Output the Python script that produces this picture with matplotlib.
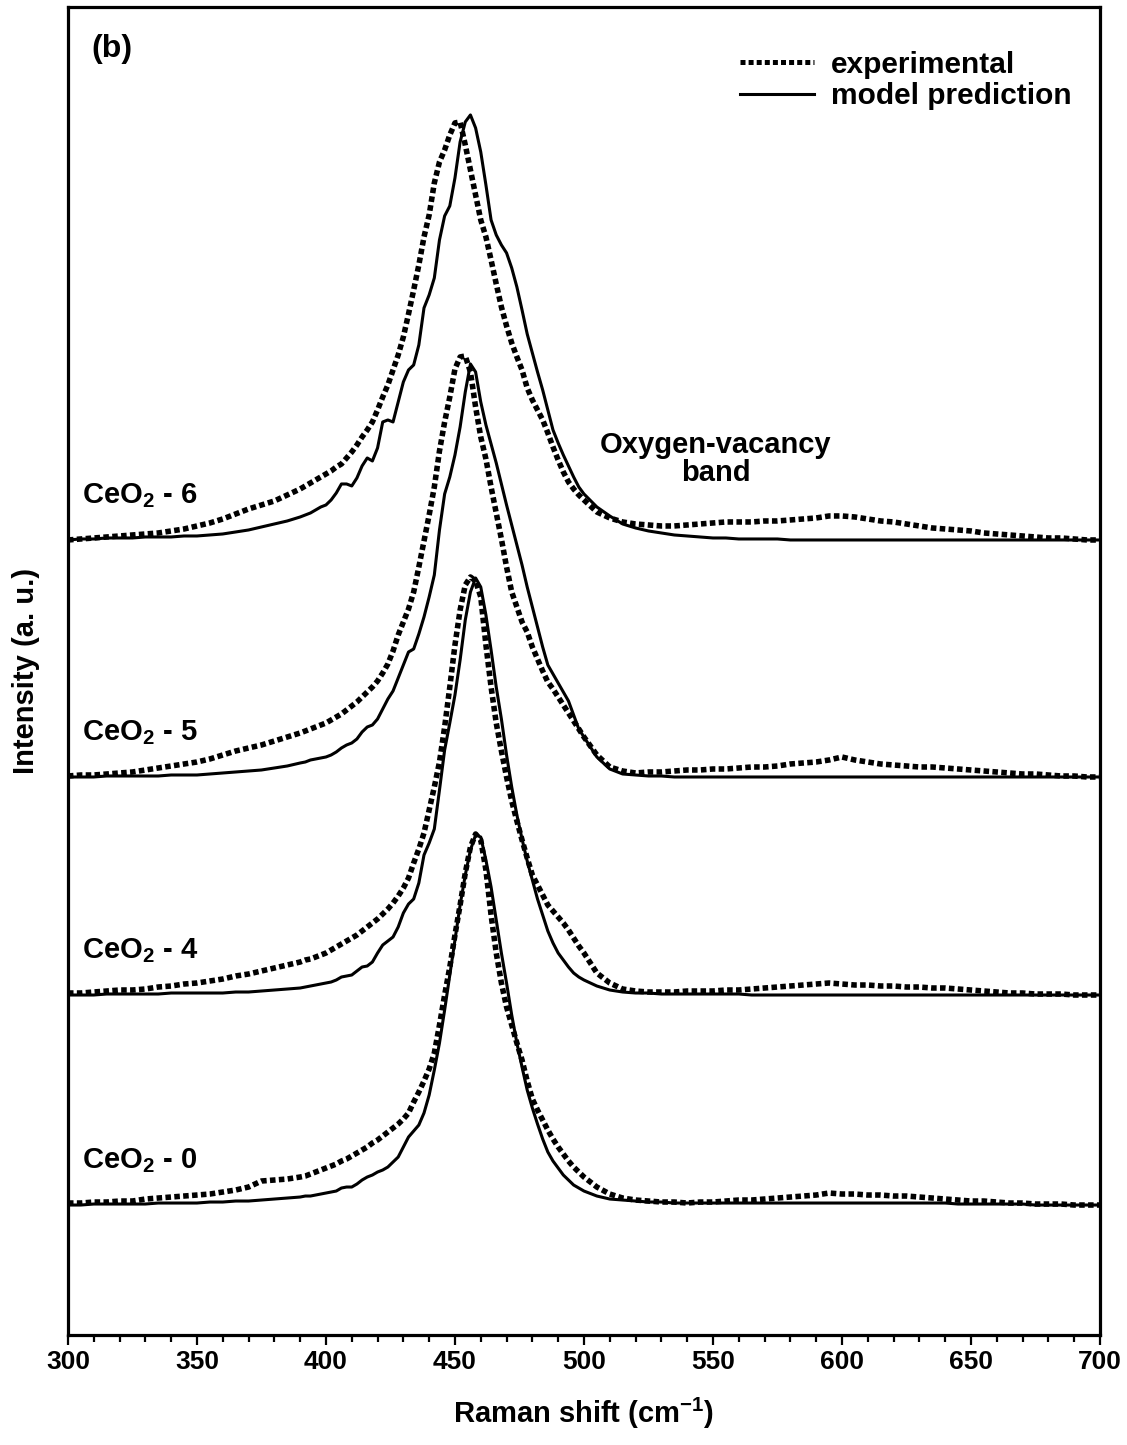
import numpy as np
import matplotlib
matplotlib.use("Agg")
import matplotlib.pyplot as plt
from matplotlib.lines import Line2D
from matplotlib.ticker import MultipleLocator, NullLocator

plt.rcParams["font.family"] = "Liberation Sans"
plt.rcParams["font.weight"] = "bold"
plt.rcParams["mathtext.fontset"] = "custom"
plt.rcParams["mathtext.rm"] = "Liberation Sans:bold"
plt.rcParams["mathtext.it"] = "Liberation Sans:bold"
plt.rcParams["mathtext.bf"] = "Liberation Sans:bold"

# Raman shift grid (cm-1): 5 cm-1 on the wings, 2 cm-1 across the F2g band
shift = np.concatenate([np.arange(300, 390, 5),
                        np.arange(390, 500, 2),
                        np.arange(500, 701, 5)])

samples = ["CeO$_2$ - 0", "CeO$_2$ - 4", "CeO$_2$ - 5", "CeO$_2$ - 6"]
offsets = [130, 340, 558, 795]

# measured spectra (a.u., baseline removed)
exp_0 = [2, 2, 3, 3, 4, 4, 6, 7, 8, 9, 10, 11, 13, 15, 18, 24, 25, 26,
         28, 29, 31, 33, 35, 37, 39, 41, 44, 46, 49, 52, 55, 58, 62, 65, 69, 73, 77, 81,
         86, 92, 103, 113, 124, 136, 152, 180, 210, 238, 270, 300, 332, 358, 371, 365, 335, 290, 252, 222,
         198, 180, 162, 145, 124, 106, 95, 85, 75, 66, 58, 51, 44, 38, 33,
         28, 18, 11, 7, 5, 4, 3, 3, 2, 3, 3, 4, 5, 5, 6, 7, 8, 9, 10, 12, 11,
         11, 10, 10, 9, 9, 8, 7, 6, 5, 4, 4, 3, 2, 2, 1, 1, 1, 0, 0, 0]
exp_4 = [2, 2, 3, 4, 5, 5, 6, 8, 9, 11, 12, 14, 16, 19, 21, 24, 27, 30,
         33, 35, 36, 38, 40, 42, 45, 48, 51, 54, 57, 60, 64, 68, 72, 76, 81, 86, 92, 99,
         107, 117, 132, 146, 162, 185, 208, 233, 268, 308, 350, 385, 410, 418, 414, 398, 350, 308, 272, 244,
         218, 194, 174, 155, 137, 120, 110, 100, 90, 84, 78, 72, 65, 57, 49,
         42, 22, 12, 6, 4, 3, 3, 3, 4, 4, 4, 5, 5, 6, 7, 8, 9, 10, 11, 12, 11,
         10, 10, 9, 9, 8, 8, 7, 7, 6, 5, 4, 3, 2, 2, 1, 1, 1, 0, 0, 0]
exp_5 = [1, 2, 2, 3, 4, 5, 7, 9, 11, 13, 15, 18, 22, 26, 29, 32, 36, 40,
         44, 46, 48, 50, 52, 54, 57, 60, 63, 67, 71, 75, 80, 85, 90, 96, 104, 113, 126, 142,
         155, 168, 185, 210, 236, 262, 290, 326, 355, 380, 408, 420, 421, 405, 370, 340, 318, 290, 264, 238,
         210, 185, 170, 155, 145, 130, 118, 106, 95, 88, 80, 72, 64, 56, 48,
         40, 22, 10, 6, 4, 5, 5, 6, 7, 7, 8, 8, 9, 10, 10, 11, 13, 14, 15, 17, 20,
         17, 15, 13, 12, 11, 10, 10, 9, 8, 7, 6, 5, 4, 3, 3, 2, 1, 1, 0, 0]
exp_6 = [0, 1, 2, 3, 4, 5, 6, 7, 9, 11, 14, 17, 21, 26, 31, 35, 39, 45,
         51, 54, 57, 60, 63, 66, 69, 73, 76, 82, 88, 95, 103, 110, 118, 130, 143, 155, 170, 185,
         203, 226, 250, 275, 303, 325, 357, 378, 390, 405, 417, 418, 395, 370, 345, 320, 303, 280, 256, 233,
         214, 197, 183, 170, 152, 140, 130, 120, 107, 93, 80, 68, 58, 51, 45,
         40, 28, 22, 18, 16, 15, 14, 14, 15, 16, 17, 18, 18, 18, 19, 19, 20, 21, 22, 24, 24,
         23, 21, 19, 18, 16, 14, 12, 11, 10, 9, 7, 6, 5, 4, 3, 2, 2, 1, 0, 0]

# model predictions on the same grid
mod_0 = [0, 0, 1, 1, 1, 1, 1, 2, 2, 2, 2, 3, 3, 4, 4, 5, 6, 7,
         8, 9, 9, 10, 11, 12, 13, 14, 17, 18, 18, 21, 25, 28, 30, 33, 35, 38, 43, 48,
         58, 68, 74, 80, 92, 110, 135, 162, 195, 230, 265, 300, 330, 355, 370, 368, 345, 318, 285, 252,
         222, 190, 162, 138, 115, 97, 81, 66, 53, 44, 37, 30, 25, 20, 17,
         14, 9, 6, 5, 4, 3, 3, 2, 2, 2, 2, 2, 2, 2, 2, 2, 2, 2, 2, 2, 2,
         2, 2, 2, 2, 2, 2, 2, 2, 1, 1, 1, 1, 1, 1, 0, 0, 0, 0, 0, 0]
mod_4 = [0, 0, 0, 1, 1, 1, 1, 1, 2, 2, 2, 2, 2, 3, 3, 4, 5, 6,
         7, 8, 9, 10, 11, 12, 13, 15, 18, 19, 20, 24, 28, 29, 33, 42, 50, 54, 58, 68,
         82, 91, 96, 112, 140, 152, 166, 205, 245, 272, 300, 335, 375, 403, 417, 408, 380, 345, 308, 276,
         240, 208, 180, 156, 134, 115, 96, 80, 64, 52, 42, 35, 28, 22, 18,
         15, 9, 5, 3, 2, 2, 1, 1, 1, 1, 1, 1, 1, 0, 0, 0, 0, 0, 0, 0, 0,
         0, 0, 0, 0, 0, 0, 0, 0, 0, 0, 0, 0, 0, 0, 0, 0, 0, 0, 0, 0]
mod_5 = [0, 0, 0, 1, 1, 1, 1, 1, 2, 2, 2, 3, 4, 5, 6, 7, 9, 11,
         14, 15, 17, 18, 19, 20, 22, 25, 29, 32, 34, 38, 45, 50, 52, 58, 68, 78, 86, 99,
         112, 125, 128, 143, 160, 180, 202, 247, 283, 300, 322, 350, 385, 413, 405, 375, 352, 333, 314, 293,
         272, 252, 232, 212, 190, 170, 150, 130, 112, 103, 94, 85, 76, 62, 48,
         40, 20, 8, 3, 2, 1, 1, 0, 0, 0, 0, 0, 0, 0, 0, 0, 0, 0, 0, 0, 0,
         0, 0, 0, 0, 0, 0, 0, 0, 0, 0, 0, 0, 0, 0, 0, 0, 0, 0, 0, 0]
mod_6 = [0, 1, 1, 2, 2, 2, 3, 3, 3, 4, 4, 5, 6, 8, 10, 13, 16, 19,
         23, 25, 27, 30, 33, 35, 40, 47, 56, 56, 54, 62, 74, 82, 79, 92, 118, 120, 118, 138,
         158, 170, 175, 195, 232, 245, 262, 300, 324, 334, 362, 398, 418, 425, 412, 388, 355, 320, 305, 295,
         287, 272, 253, 230, 206, 187, 168, 150, 130, 110, 97, 85, 74, 63, 53,
         46, 33, 24, 16, 12, 9, 7, 5, 4, 3, 2, 2, 1, 1, 1, 1, 0, 0, 0, 0, 0,
         0, 0, 0, 0, 0, 0, 0, 0, 0, 0, 0, 0, 0, 0, 0, 0, 0, 0, 0, 0]

experimental = [exp_0, exp_4, exp_5, exp_6]
model = [mod_0, mod_4, mod_5, mod_6]

fig = plt.figure(figsize=(11.27, 14.45), dpi=100)
ax = fig.add_axes([0.0603, 0.0761, 0.9157, 0.9191])

dots = (0, (1, 0.6))
for name, off, e, m in zip(samples, offsets, experimental, model):
    ax.plot(shift, np.array(e) + off, color="black", lw=4.0,
            linestyle=dots, dash_capstyle="butt")
    ax.plot(shift, np.array(m) + off, color="black", lw=2.2)
    ax.text(305.5, off + 44, name, fontsize=21, fontweight="bold",
            ha="left", va="center")

ax.text(551, 876, "Oxygen-vacancy\nband", fontsize=21, fontweight="bold",
        ha="center", va="center", linespacing=1.0)
ax.text(0.023, 0.968, "(b)", transform=ax.transAxes, fontsize=23,
        fontweight="bold", ha="left", va="center")

handles = [Line2D([], [], color="black", lw=3.6, linestyle=(0, (1, 0.62)),
                  dash_capstyle="butt"),
           Line2D([], [], color="black", lw=2.2)]
ax.legend(handles, ["experimental", "model prediction"], loc="upper left",
          bbox_to_anchor=(0.651, 0.967), frameon=False, borderpad=0,
          borderaxespad=0, handlelength=2.5, handletextpad=0.55,
          labelspacing=0.12, prop={"size": 21.5, "weight": "bold"})

ax.set_xlim(300, 700)
ax.set_ylim(0, 1328)
ax.xaxis.set_major_locator(MultipleLocator(50))
ax.xaxis.set_minor_locator(MultipleLocator(10))
ax.yaxis.set_major_locator(NullLocator())
ax.tick_params(axis="x", which="major", direction="out", length=7.5, width=1.6,
               labelsize=19, pad=3)
ax.tick_params(axis="x", which="minor", direction="out", length=5, width=1.6)
for lab in ax.get_xticklabels():
    lab.set_fontweight("bold")
for sp in ax.spines.values():
    sp.set_linewidth(2.3)

ax.set_xlabel("Raman shift (cm$^{-1}$)", fontsize=21, fontweight="bold", labelpad=16)
ax.set_ylabel("Intensity (a. u.)", fontsize=21, fontweight="bold", labelpad=20)

fig.savefig("out.png", dpi=100)
